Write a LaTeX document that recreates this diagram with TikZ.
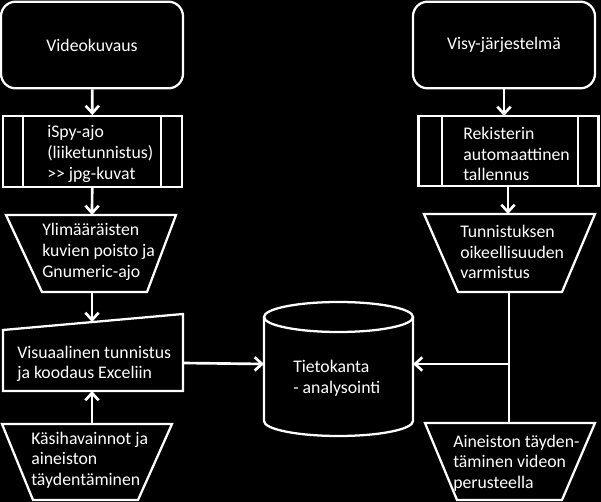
\documentclass[tikz,border=0pt]{standalone}
\usepackage{fontspec}
\setmainfont{Carlito}
\usetikzlibrary{arrows.meta}
\begin{document}
\begin{tikzpicture}[x=0.75pt,y=-0.75pt,
  shp/.style={draw=white,line width=1.7pt},
  conn/.style={draw=white,line width=2pt},
  arr/.style={conn,-{Straight Barb[length=5.5pt,width=10pt,line width=2pt]}},
  txt/.style={text=white,font=\fontsize{13.3}{15.5}\selectfont,inner sep=0pt},
  ltxt/.style={txt,align=left,anchor=west}]
\fill[black] (0,0) rectangle (601,502);
\useasboundingbox (0,0) rectangle (601,502);
% top boxes
\node[shp,rounded corners=11pt,minimum width=136.5pt,minimum height=65pt,txt] (vid) at (92,45) {Videokuvaus};
\node[shp,rounded corners=11pt,minimum width=136.5pt,minimum height=65pt,txt] (visy) at (504,45) {Visy-järjestelmä};
% predefined process boxes
\node[shp,minimum width=134pt,minimum height=53pt] (ispy) at (92.5,151.5) {};
\draw[shp] (23,116) -- (23,187) (161,116) -- (161,187);
\node[ltxt] (ispyt) at (47,154) {iSpy-ajo\\(liiketunnistus)\\{>}{>} jpg-kuvat};
\node[shp,minimum width=135pt,minimum height=52.5pt] (rek) at (508.5,151) {};
\draw[shp] (442,116) -- (442,186) (578,116) -- (578,186);
\node[ltxt] (rekt) at (463,154) {Rekisterin\\automaattinen\\tallennus};
% trapezoids left
\draw[shp] (6,215) -- (176,215) -- (147,292) -- (42,292) -- cycle;
\coordinate (ylimT) at (92,215);
\coordinate (ylimB) at (92,292);
\node[ltxt] (ylimt) at (42,252) {Ylimääräisten\\kuvien poisto ja\\Gnumeric-ajo};
% manual input
\draw[shp] (3,330) -- (183,314) -- (183,391) -- (3,391) -- cycle;
\coordinate (visT) at (92,322);
\coordinate (visB) at (92,391);
\coordinate (visR) at (183,363);
\node[ltxt] (vist) at (17,364) {Visuaalinen tunnistus\\ja koodaus Exceliin};
% bottom left trapezoid
\draw[shp] (2,424) -- (172,424) -- (138,500) -- (33,500) -- cycle;
\coordinate (kasiT) at (92,424);
\node[ltxt] (kasit) at (31,460) {Käsihavainnot ja\\aineiston\\täydentäminen};
% right trapezoids
\draw[shp] (424,214) -- (595,214) -- (562,292) -- (458,292) -- cycle;
\coordinate (tunT) at (508,214);
\coordinate (tunB) at (509,292);
\node[ltxt] (tunt) at (460,252) {Tunnistuksen\\oikeellisuuden\\varmistus};
\draw[shp] (425,423) -- (595,423) -- (562,500) -- (457,500) -- cycle;
\coordinate (ainT) at (509,423);
\node[ltxt] (aint) at (453,463) {Aineiston täyden-\\täminen videon\\perusteella};
% cylinder
\draw[shp] (264,317) -- (264,421) arc[start angle=180,end angle=360,x radius=55.875pt,y radius=11.25pt] -- (413,317);
\draw[shp] (338.5,317) ellipse [x radius=55.875pt,y radius=11.25pt];
\coordinate (dbL) at (264,364);
\coordinate (dbR) at (413,364);
\node[ltxt] (dbt) at (293,378) {Tietokanta\\- analysointi};
% connectors
\coordinate (visyB) at (504,89);
\coordinate (rekT) at (504,116);
\coordinate (rekB) at (508,186);
\draw[arr] (vid) -- (ispy);
\draw[arr] (ispy) -- (ylimT);
\draw[arr] (ylimB) -- (visT);
\draw[arr] (kasiT) -- (visB);
\draw[arr] (visR) -- (dbL);
\draw[arr] (visyB) -- (rekT);
\draw[arr] (rekB) -- (tunT);
\draw[conn] (tunB) -- (ainT);
\coordinate (junc) at (509,364);
\draw[arr] (junc) -- (dbR);
\end{tikzpicture}
\end{document}
